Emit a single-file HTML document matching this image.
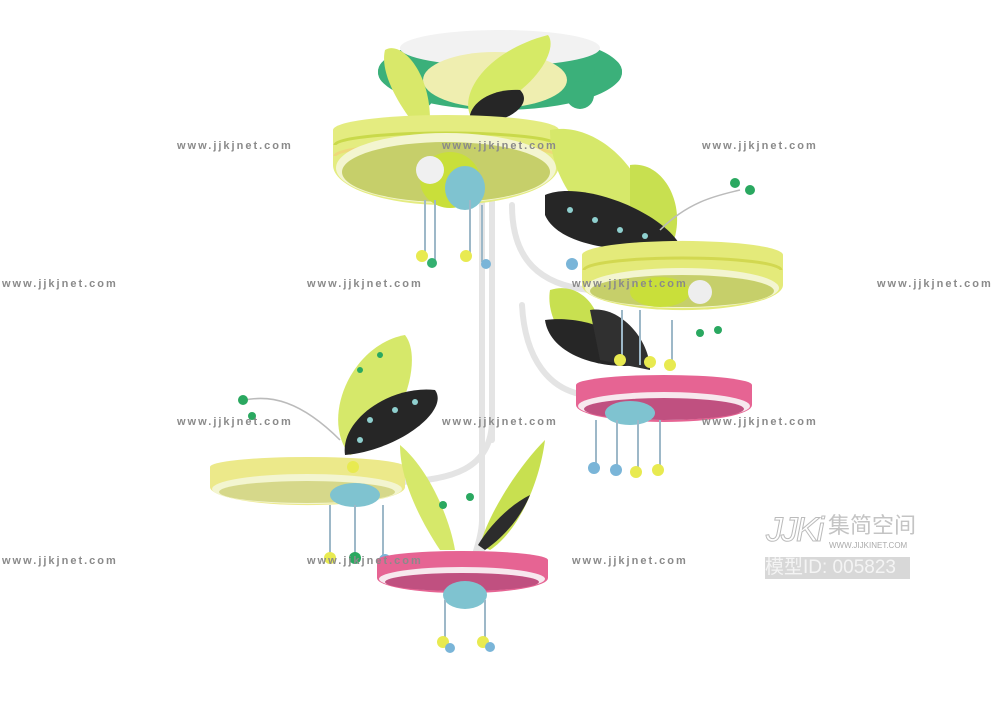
<!DOCTYPE html>
<html><head><meta charset="utf-8"><style>
html,body{margin:0;padding:0;background:#fff;width:1000px;height:710px;overflow:hidden}
.wm{position:absolute;font:bold 11px "Liberation Sans",sans-serif;color:#8a8a8a;letter-spacing:2px}
</style></head><body>
<svg width="1000" height="710" style="position:absolute;left:0;top:0">
<!-- canopy -->
<ellipse cx="500" cy="72" rx="122" ry="38" fill="#3bb07a"/>
<g fill="#3bb07a">
<circle cx="392" cy="72" r="14"/><circle cx="608" cy="72" r="14"/><circle cx="420" cy="95" r="14"/><circle cx="580" cy="95" r="14"/><circle cx="500" cy="105" r="10"/>
</g>
<ellipse cx="500" cy="48" rx="100" ry="18" fill="#f2f2f2"/>
<ellipse cx="495" cy="80" rx="72" ry="28" fill="#efeeb0"/>
<!-- stems -->
<g fill="none" stroke="#e4e4e4" stroke-width="6" stroke-linecap="round">
<path d="M482 200 L482 560"/><path d="M492 200 L492 440"/>
<path d="M512 205 C512 260 540 285 590 290"/>
<path d="M522 305 C525 360 550 390 585 395"/>
<path d="M492 420 C492 470 450 480 400 482"/>
<path d="M482 520 C482 540 470 565 470 575"/>
</g>
<!-- top wings -->
<path d="M385 50 C400 40 430 70 430 120 L415 125 C395 100 380 70 385 50Z" fill="#d9e86a"/>
<path d="M548 35 C560 50 530 100 470 115 C460 90 490 50 548 35Z" fill="#d6ea66"/>
<path d="M520 90 C535 105 505 125 470 125 C465 105 490 88 520 90Z" fill="#262626"/>
<!-- top drum -->
<path d="M333 130 A113 15 0 0 1 559 130 L559 165 A113 40 0 0 1 333 165Z" fill="#e4ec80"/>
<path d="M335 145 A111 12 0 0 1 557 145" fill="none" stroke="#c9d94a" stroke-width="3"/>
<path d="M335 156 A111 12 0 0 1 557 156" fill="none" stroke="#eed87a" stroke-width="3"/>
<ellipse cx="446" cy="168" rx="110" ry="35" fill="#f3f5d0"/>
<ellipse cx="446" cy="172" rx="104" ry="30" fill="#c6cf6a"/>
<!-- top bee -->
<ellipse cx="450" cy="180" rx="30" ry="28" fill="#c9df3a"/>
<ellipse cx="465" cy="188" rx="20" ry="22" fill="#7fc3d0"/>
<circle cx="430" cy="170" r="14" fill="#f0f0f0"/>
<g stroke="#9db8c8" stroke-width="2" fill="none"><path d="M425 200 V255"/><path d="M435 200 V260"/><path d="M470 200 V255"/><path d="M482 205 V262"/></g>
<g><circle cx="422" cy="256" r="6" fill="#e8ea50"/><circle cx="432" cy="263" r="5" fill="#33b070"/><circle cx="466" cy="256" r="6" fill="#e8ea50"/><circle cx="486" cy="264" r="5" fill="#7ab5d8"/></g>
<!-- right upper wings -->
<path d="M550 130 C600 120 660 180 650 245 C600 240 550 190 550 130Z" fill="#d6e86a"/>
<path d="M630 165 C665 160 690 210 670 250 L630 240Z" fill="#c8e050"/>
<path d="M545 195 C580 180 660 210 680 245 C640 255 560 250 545 215Z" fill="#262626"/>
<g fill="#8fd0cf"><circle cx="570" cy="210" r="3"/><circle cx="595" cy="220" r="3"/><circle cx="620" cy="230" r="3"/><circle cx="645" cy="236" r="3"/></g>
<path d="M660 230 C690 200 720 195 740 190" fill="none" stroke="#bbb" stroke-width="1.5"/>
<circle cx="735" cy="183" r="5" fill="#2aa860"/><circle cx="750" cy="190" r="5" fill="#2aa860"/>
<!-- right upper drum -->
<path d="M582 255 A100 14 0 0 1 783 255 L783 285 A100 25 0 0 1 582 285Z" fill="#e4ea7a"/>
<path d="M584 270 A98 12 0 0 1 781 270" fill="none" stroke="#d2d850" stroke-width="3"/>
<ellipse cx="682" cy="288" rx="97" ry="20" fill="#f3f5d0"/>
<ellipse cx="682" cy="291" rx="92" ry="16" fill="#c6cf6a"/>
<ellipse cx="660" cy="292" rx="30" ry="15" fill="#c9df3a"/><circle cx="700" cy="292" r="12" fill="#eee"/>
<circle cx="572" cy="264" r="6" fill="#7ab5d8"/>
<!-- right middle wings -->
<path d="M550 290 C580 280 610 310 600 360 C570 355 545 320 550 290Z" fill="#c8e050"/>
<path d="M545 320 C580 315 630 330 640 365 C600 370 550 355 545 320Z" fill="#262626"/>
<path d="M590 310 C620 305 650 340 650 370 L600 360Z" fill="#303030"/>
<g stroke="#9db8c8" stroke-width="2" fill="none"><path d="M622 310 V360"/><path d="M640 310 V365"/><path d="M672 320 V360"/></g>
<circle cx="620" cy="360" r="6" fill="#e8ea50"/><circle cx="650" cy="362" r="6" fill="#e8ea50"/><circle cx="670" cy="365" r="6" fill="#e8ea50"/>
<circle cx="700" cy="333" r="4" fill="#2aa860"/><circle cx="718" cy="330" r="4" fill="#2aa860"/>
<!-- pink right drum -->
<path d="M576 385 A88 10 0 0 1 752 385 L752 405 A88 17 0 0 1 576 405Z" fill="#e66493"/>
<ellipse cx="664" cy="406" rx="86" ry="14" fill="#f7e8ee"/>
<ellipse cx="664" cy="409" rx="80" ry="11" fill="#c05080"/>
<ellipse cx="630" cy="413" rx="25" ry="12" fill="#7fc3d0"/>
<g stroke="#9db8c8" stroke-width="2" fill="none"><path d="M596 420 V465"/><path d="M617 420 V468"/><path d="M638 420 V470"/><path d="M660 420 V470"/></g>
<circle cx="594" cy="468" r="6" fill="#7ab5d8"/><circle cx="616" cy="470" r="6" fill="#7ab5d8"/><circle cx="636" cy="472" r="6" fill="#e8ea50"/><circle cx="658" cy="470" r="6" fill="#e8ea50"/>
<!-- left wings -->
<path d="M405 335 C425 360 400 440 350 455 C320 420 350 345 405 335Z" fill="#d6e86a"/>
<path d="M435 390 C450 410 400 450 345 455 C340 420 390 385 435 390Z" fill="#262626"/>
<g fill="#8fd0cf"><circle cx="370" cy="420" r="3"/><circle cx="395" cy="410" r="3"/><circle cx="415" cy="402" r="3"/><circle cx="360" cy="440" r="3"/></g>
<g fill="#2aa860"><circle cx="360" cy="370" r="3"/><circle cx="380" cy="355" r="3"/></g>
<path d="M340 440 C300 400 270 395 245 400" fill="none" stroke="#bbb" stroke-width="1.5"/>
<circle cx="243" cy="400" r="5" fill="#2aa860"/><circle cx="252" cy="416" r="4" fill="#2aa860"/>
<!-- left drum -->
<path d="M210 467 A97 10 0 0 1 405 467 L405 487 A97 18 0 0 1 210 487Z" fill="#ece98a"/>
<ellipse cx="307" cy="489" rx="95" ry="15" fill="#f3f5d0"/>
<ellipse cx="307" cy="492" rx="88" ry="11" fill="#d6d88a"/>
<ellipse cx="355" cy="495" rx="25" ry="12" fill="#7fc3d0"/>
<circle cx="353" cy="467" r="6" fill="#e8ea50"/>
<g stroke="#9db8c8" stroke-width="2" fill="none"><path d="M330 505 V555"/><path d="M355 505 V555"/><path d="M383 505 V558"/></g>
<circle cx="330" cy="558" r="6" fill="#e8ea50"/><circle cx="355" cy="558" r="6" fill="#2aa860"/><circle cx="385" cy="560" r="6" fill="#7ab5d8"/>
<!-- bottom wings -->
<path d="M400 445 C430 470 450 520 455 550 L440 550 C420 520 400 480 400 445Z" fill="#d6e86a"/>
<path d="M545 440 C540 480 520 530 490 550 L480 545 C490 510 520 465 545 440Z" fill="#c8e050"/>
<path d="M530 495 C520 520 500 540 485 550 L478 545 C490 525 510 505 530 495Z" fill="#2c2c2c"/>
<circle cx="443" cy="505" r="4" fill="#2aa860"/><circle cx="470" cy="497" r="4" fill="#2aa860"/>
<!-- bottom pink drum -->
<path d="M377 560 A85 9 0 0 1 548 560 L548 578 A85 15 0 0 1 377 578Z" fill="#e66493"/>
<ellipse cx="462" cy="579" rx="83" ry="12" fill="#f7e8ee"/>
<ellipse cx="462" cy="582" rx="77" ry="9" fill="#c05080"/>
<ellipse cx="465" cy="595" rx="22" ry="14" fill="#7fc3d0"/>
<g stroke="#9db8c8" stroke-width="2" fill="none"><path d="M445 600 V640"/><path d="M485 600 V640"/></g>
<circle cx="443" cy="642" r="6" fill="#e8ea50"/><circle cx="450" cy="648" r="5" fill="#7ab5d8"/><circle cx="483" cy="642" r="6" fill="#e8ea50"/><circle cx="490" cy="647" r="5" fill="#7ab5d8"/>
</svg>
<div class="wm" style="left:177px;top:140px">www.jjkjnet.com</div>
<div class="wm" style="left:442px;top:140px">www.jjkjnet.com</div>
<div class="wm" style="left:702px;top:140px">www.jjkjnet.com</div>
<div class="wm" style="left:2px;top:278px">www.jjkjnet.com</div>
<div class="wm" style="left:307px;top:278px">www.jjkjnet.com</div>
<div class="wm" style="left:572px;top:278px">www.jjkjnet.com</div>
<div class="wm" style="left:877px;top:278px">www.jjkjnet.com</div>
<div class="wm" style="left:177px;top:416px">www.jjkjnet.com</div>
<div class="wm" style="left:442px;top:416px">www.jjkjnet.com</div>
<div class="wm" style="left:702px;top:416px">www.jjkjnet.com</div>
<div class="wm" style="left:2px;top:555px">www.jjkjnet.com</div>
<div class="wm" style="left:307px;top:555px">www.jjkjnet.com</div>
<div class="wm" style="left:572px;top:555px">www.jjkjnet.com</div>
<div style="position:absolute;left:766px;top:512px;font:italic 34px 'Liberation Sans',sans-serif;color:#fff;-webkit-text-stroke:1px #bbb;letter-spacing:-2px;line-height:36px">JJKi</div>
<div style="position:absolute;left:828px;top:514px;font:22px 'Liberation Sans','Noto Sans CJK SC',sans-serif;color:#c4c4c4;line-height:24px">集简空间</div>
<div style="position:absolute;left:829px;top:541px;font:8px 'Liberation Sans',sans-serif;color:#aaa">WWW.JIJKINET.COM</div>
<div style="position:absolute;left:765px;top:557px;width:145px;height:22px;background:#d8d8d8;font:19px 'Liberation Sans','Noto Sans CJK SC',sans-serif;color:#f4f4f4;line-height:22px">模型ID: 005823</div>
</body></html>
